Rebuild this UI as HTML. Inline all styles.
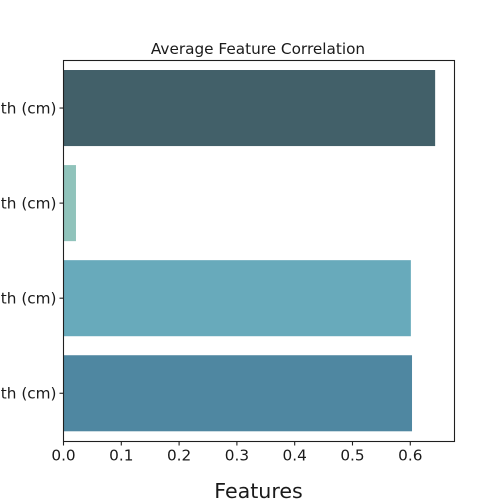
<!DOCTYPE html>
<html>
<head>
<meta charset="utf-8">
<style>
html,body{margin:0;padding:0;background:#fff;width:504px;height:504px;overflow:hidden}
svg{display:block}
text{font-family:"DejaVu Sans",sans-serif;fill:#1a1a1a}
</style>
</head>
<body>
<svg id="chart" width="504" height="504" viewBox="0 0 504 504" xmlns="http://www.w3.org/2000/svg">
<rect width="504" height="504" fill="#fff"/>
<text x="258" y="54" font-size="15.28" text-anchor="middle">Average Feature Correlation</text>
<text x="258.5" y="498" font-size="20.6" text-anchor="middle">Features</text>
</svg>
<script>
const categories = ['sepal length (cm)', 'sepal width (cm)', 'petal length (cm)', 'petal width (cm)'];
const values = [0.643, 0.0216, 0.601, 0.603];
const colors = ['#426069', '#90c3bb', '#68aabb', '#4f87a1'];
const xTicks = [0, 0.1, 0.2, 0.3, 0.4, 0.5, 0.6];
const xDomain = [0, 0.6765];

const svg = document.getElementById('chart');
const NS = 'http://www.w3.org/2000/svg';
const plot = { left: 63.5, right: 454.5, top: 60.5, bottom: 441.5, bandBottom: 440.8 };
const xScale = v => plot.left + (v - xDomain[0]) / (xDomain[1] - xDomain[0]) * (plot.right - plot.left);
const band = (plot.bandBottom - plot.top) / categories.length;
const yCenter = i => plot.top + band * (i + 0.5);
const barHeight = band * 0.8;

function make(tag, attrs, text) {
  const el = document.createElementNS(NS, tag);
  for (const k in attrs) el.setAttribute(k, attrs[k]);
  if (text !== undefined) el.textContent = text;
  svg.appendChild(el);
  return el;
}

values.forEach((v, i) => {
  const bar = make('rect', {
    x: plot.left,
    y: yCenter(i) - barHeight / 2,
    width: xScale(v) - plot.left,
    height: barHeight,
    fill: colors[i]
  });
  
  
});

categories.forEach((c, i) => {
  const y = yCenter(i);
  const tick = make('line', { x1: plot.left - 4, x2: plot.left, y1: y, y2: y, stroke: '#1f1f1f', 'stroke-width': 1.1 });
  
  
  const label = make('text', { x: plot.left - 7, y: y + 5.3, 'font-size': 15.28, 'text-anchor': 'end' }, c);
  
  
});

xTicks.forEach(t => {
  const x = xScale(t);
  const tick = make('line', { x1: x, x2: x, y1: plot.bottom, y2: plot.bottom + 4, stroke: '#1f1f1f', 'stroke-width': 1.1 });
  
  
  const label = make('text', { x: x, y: plot.bottom + 18.8, 'font-size': 15.28, 'text-anchor': 'middle' }, t.toFixed(1));
  
  
});

const frame = make('rect', {
  x: plot.left,
  y: plot.top,
  width: plot.right - plot.left,
  height: plot.bottom - plot.top,
  fill: 'none',
  stroke: '#1f1f1f',
  'stroke-width': 1.1
});


</script>
</body>
</html>
